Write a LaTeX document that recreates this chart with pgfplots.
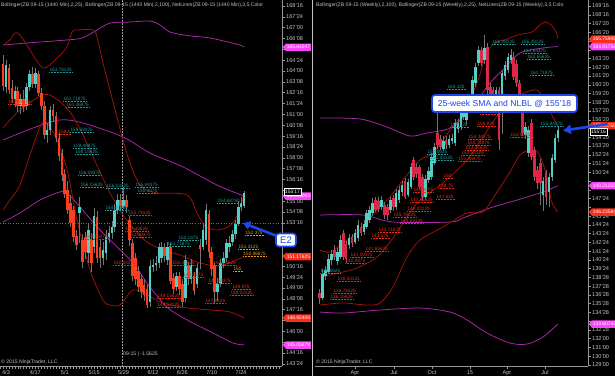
\documentclass[border=0pt]{standalone}
\usepackage{fontspec}
\setmainfont{Liberation Sans}
\usepackage{pgfplots}
\usepackage{pgfplotstable}
\pgfplotsset{compat=1.18}
\usetikzlibrary{shapes.symbols,arrows.meta}

\definecolor{upc}{RGB}{80,208,198}
\definecolor{dnL}{RGB}{255,62,30}
\definecolor{dnR}{RGB}{222,38,72}
\definecolor{wick}{RGB}{115,115,115}
\definecolor{bbred}{RGB}{165,18,10}
\definecolor{bbmag}{RGB}{175,40,175}
\definecolor{tl}{RGB}{38,150,150}
\definecolor{rl}{RGB}{232,45,22}
\definecolor{ol}{RGB}{235,150,20}
\definecolor{axg}{RGB}{195,195,195}
\definecolor{axl}{RGB}{150,150,150}
\definecolor{tagmag}{RGB}{250,70,250}
\definecolor{tagred}{RGB}{250,45,25}
\definecolor{callb}{RGB}{28,72,235}
\definecolor{olive2}{RGB}{120,130,20}

\newcommand{\tk}{\fontsize{5.6}{6}\selectfont}
\newcommand{\nlf}{\fontsize{4.7}{5}\selectfont}
\newcommand{\hdr}{\fontsize{5.1}{6}\selectfont}

\pgfplotsset{
  ninja/.style={
    scale only axis, height=366pt,
    axis x line*=bottom, axis y line*=right,
    every outer x axis line/.append style={-},
    every outer y axis line/.append style={-},
    every inner x axis line/.append style={-},
    every inner y axis line/.append style={-},
    axis line style={draw=axl, line width=0.6pt},
    tick style={draw=axl, line width=0.5pt},
    tick align=outside,
    major tick length=3pt, minor tick length=2.5pt,
    ticklabel style={font=\tk, text=axg},
    y tick label style={inner xsep=1pt},
    x tick label style={inner ysep=1pt},
  },
  wicks/.style={draw=none, mark=none, forget plot,
    error bars/y dir=both, error bars/y explicit, error bars/error mark=none,
    error bars/error bar style={draw=wick, line width=0.6pt}},
  bodies/.style={draw=none, mark=none, forget plot,
    error bars/y dir=both, error bars/y explicit, error bars/error mark=none,
    error bars/error bar style={draw=#1, line width=2.6pt}},
  band/.style={draw=#1, line width=0.75pt, smooth, tension=0.5, mark=none},
}

\tikzset{
  nl/.style={font=\nlf, text=#1, anchor=west, inner sep=0.4pt,
    append after command={(\tikzlastnode.south west) edge[draw=#1, densely dotted, line width=0.5pt] (\tikzlastnode.south east)}},
  tag/.style={signal, signal to=west, signal pointer angle=100, fill=#1, text=white,
    font=\fontsize{4.9}{5}\selectfont, inner xsep=1pt, inner ysep=0.6pt, anchor=west, minimum height=7.5pt},
  callout/.style={draw=callb, line width=1.6pt, rounded corners=3pt, fill=white, text=callb, inner sep=1pt},
  lastp/.style={draw=white, fill=black, text=white, font=\fontsize{4.9}{5}\selectfont, inner xsep=1pt, inner ysep=0.6pt, anchor=west, minimum height=7pt},
}

\pgfplotstableread{
i o h l c
-1 164.5 165.1 162.6 163.0
0 162.9 164.8 162.5 164.4
1 164.2 164.5 162.4 162.7
2 162.8 163.4 161.8 162.1
3 162.1 163.0 161.5 162.6
4 162.6 162.9 161.2 161.6
5 161.6 162.4 161.0 162.1
6 162.1 162.7 161.2 161.5
7 161.6 163.2 161.3 162.9
8 162.9 164.1 162.6 163.8
9 163.8 164.3 162.8 163.1
10 163.1 164.2 162.8 163.9
11 163.8 164.0 162.3 162.5
12 162.5 162.8 161.3 161.6
13 161.6 161.9 159.3 159.6
14 159.6 160.4 159.0 159.9
15 159.9 161.6 159.6 161.3
16 161.3 161.7 160.5 160.9
17 160.9 161.2 159.1 159.4
18 159.4 159.7 157.8 158.1
19 158.3 158.6 156.4 156.8
20 156.9 157.2 155.2 155.5
21 155.8 156.4 154.1 154.4
22 154.9 155.4 153.2 153.5
23 154.4 154.7 152.2 152.5
24 152.6 153.0 151.6 152.0
25 154.2 155.3 152.1 154.6
26 152.3 152.7 150.4 150.8
27 152.5 152.9 151.0 151.5
28 151.4 153.4 150.7 153.0
29 152.3 152.8 150.1 150.7
30 151.8 154.5 151.4 154.0
31 153.9 154.3 150.7 151.1
32 151.8 152.3 150.4 151.1
33 151.1 152.2 150.6 151.6
34 151.4 153.0 150.9 152.5
35 152.5 153.3 152.1 152.8
36 152.8 153.6 152.4 153.2
37 153.2 154.8 152.9 154.4
38 154.4 155.5 154.1 155.1
39 155.1 155.5 154.3 154.7
40 154.7 156.0 154.5 155.1
41 155.1 155.4 154.2 154.6
42 153.7 154.0 151.9 152.3
43 152.1 152.4 149.5 149.8
44 151.1 151.4 149.2 149.6
45 150.2 150.5 148.7 149.1
46 149.6 149.9 148.3 148.7
47 149.2 149.6 148.1 148.5
48 148.9 149.2 147.6 147.8
49 148.0 150.9 147.7 150.5
50 150.5 151.0 150.1 150.6
51 150.6 151.2 150.2 150.7
52 150.7 152.1 150.4 151.8
53 151.1 152.2 150.7 151.8
54 151.8 152.1 150.8 151.2
55 150.9 152.2 150.6 151.8
56 151.8 152.1 149.3 149.5
57 149.7 150.0 148.6 148.9
58 149.1 150.1 148.8 149.8
59 149.8 150.1 148.5 148.9
60 149.3 149.6 147.7 148.0
61 148.3 151.3 148.0 150.9
62 150.5 150.8 149.2 149.6
63 149.6 151.0 149.3 150.6
64 149.8 150.1 148.5 148.8
65 149.3 150.7 149.0 150.4
66 152.0 152.4 150.3 151.7
67 151.8 153.5 151.6 153.0
68 152.3 154.8 152.0 154.4
69 154.1 154.4 151.1 151.5
70 151.5 151.8 149.8 150.3
71 150.5 150.7 147.9 148.7
72 148.7 149.7 148.1 149.3
73 149.3 151.0 149.1 150.7
74 150.7 151.5 150.4 151.1
75 151.1 152.4 150.8 152.1
76 151.8 152.6 151.5 152.1
77 152.2 153.0 151.9 152.7
78 152.7 153.7 152.4 153.4
79 153.4 155.0 153.3 154.6
80 154.6 155.3 154.3 154.9
81 154.7 155.7 154.5 155.6
}\leftdata

\pgfplotstableread{
w o h l c
-12 137.1 137.6 135.9 136.5
-11 136.6 139.8 136.3 139.3
-10 139.0 140.2 138.6 139.7
-9 139.5 141.5 139.2 141.0
-8 140.8 142.0 140.3 141.5
-7 142.0 142.5 140.8 141.2
-6 140.7 142.2 140.3 141.7
-5 141.2 143.7 140.9 143.1
-4 143.9 144.2 140.8 141.2
-3 142.6 143.0 140.5 141.0
-2 142.5 143.8 142.1 143.3
-1 143.4 143.8 142.3 142.7
0 142.9 144.3 142.6 143.9
1 143.3 145.4 143.0 144.8
2 144.6 145.0 143.5 143.9
3 144.0 145.3 143.7 144.9
4 144.6 146.5 144.3 146.1
5 145.3 146.9 145.0 146.5
6 146.1 147.8 145.8 147.3
7 147.6 148.0 146.2 146.5
8 147.5 148.0 146.2 146.6
9 146.8 148.1 146.5 147.6
10 147.0 147.4 145.5 145.9
11 146.8 147.2 145.4 145.9
12 146.5 148.0 146.1 147.6
13 147.8 148.2 146.4 146.8
14 146.8 148.8 146.5 148.4
15 147.6 149.2 147.3 148.7
16 148.5 149.8 148.1 149.3
17 149.8 150.1 147.7 148.0
18 148.2 150.0 147.9 149.6
19 149.1 151.8 148.8 151.3
20 152.1 152.5 149.9 150.2
21 151.3 151.8 150.1 150.5
22 151.3 151.6 148.8 149.1
23 150.2 150.5 147.5 147.9
24 148.0 150.4 147.7 150.0
25 149.9 151.3 149.5 150.9
26 150.2 152.9 149.9 152.5
27 151.8 154.0 151.5 153.6
28 155.2 158.1 153.4 153.8
29 154.5 154.9 153.2 153.6
30 153.4 154.8 153.1 154.3
31 154.4 154.8 153.4 153.8
32 153.8 154.9 153.5 154.5
33 154.3 155.0 153.9 154.6
34 154.0 156.8 153.7 156.3
35 155.6 156.8 155.2 156.3
36 155.8 158.2 155.5 157.8
37 157.0 158.1 156.6 157.6
38 156.6 158.7 156.2 158.2
39 157.9 159.5 157.5 159.0
40 158.1 161.6 157.8 161.1
41 160.8 163.1 160.4 162.6
42 163.1 165.0 162.7 164.5
43 164.5 164.9 162.7 163.1
44 163.4 166.2 163.0 164.8
45 164.9 165.3 159.6 160.0
46 160.4 160.8 158.1 158.5
47 160.0 160.4 157.4 157.8
48 159.2 160.4 158.8 160.0
49 160.0 160.4 153.3 154.4
50 158.9 162.3 155.0 161.9
51 161.6 163.3 161.2 162.8
52 162.3 164.2 161.9 163.7
53 163.4 164.6 163.0 164.0
54 163.7 164.3 161.1 161.5
55 163.0 163.4 160.4 160.8
56 160.8 161.2 158.8 159.2
57 157.4 157.8 154.8 155.2
58 154.9 156.4 154.5 155.8
59 152.9 156.0 152.5 155.5
60 156.3 156.7 152.1 152.5
61 153.2 153.6 149.8 150.2
62 151.0 151.4 148.9 149.5
63 151.8 152.2 147.0 149.5
64 148.2 150.2 146.4 149.8
65 150.6 151.0 147.0 148.0
66 148.5 150.6 146.8 150.2
67 150.2 152.8 149.8 152.4
68 152.1 155.0 151.8 154.6
69 154.6 155.9 154.2 155.5
}\rightdata

\begin{document}
\begin{tikzpicture}
\path[use as bounding box, fill=black] (0pt,0pt) rectangle (615pt,376pt);

% background guides (pixel coordinates)
\begin{scope}[shift={(0pt,376pt)}, x=1pt, y=-1pt]
  \draw[draw=axg, line width=1.3pt] (312.5,0) -- (312.5,376);
  \draw[draw=axl, densely dotted, line width=0.5pt] (122,0) -- (122,366);
  \draw[draw=olive2, dotted, line width=0.6pt] (0,223) -- (282,223);
\end{scope}

% ---------------- left panel: daily ----------------
\begin{axis}[ninja, at={(0pt,10pt)}, anchor=south west, width=282pt,
  xmin=-2.04, xmax=93.9, ymin=143.60, ymax=168.915,
  xtick={0,10,20,30,40,50,60,70,80},
  xticklabels={4/3,4/17,5/1,5/15,5/29,6/12,6/26,7/10,7/24},
  minor xtick={-2,-1,...,93},
  ytick={143.75,144.5,145.25,146,146.75,147.5,148.25,149,149.75,150.5,151.25,152,152.75,153.5,154.25,155,155.75,156.5,157.25,158,158.75,159.5,160.25,161,161.75,162.5,163.25,164,164.75,165.5,166.25,167,167.75,168.5},
  yticklabels={143'24,144'16,,146'00,,147'16,148'08,149'00,149'24,150'16,,,,153'16,154'08,155'00,,156'16,157'08,158'00,158'24,159'16,160'08,161'00,161'24,162'16,163'08,164'00,164'24,,166'08,167'00,167'24,168'16},
]
% Bollinger 100 (magenta)
\addplot[band=bbmag] coordinates {(-1.02,165.80) (7.14,165.94) (20.7,166.15) (25.9,166.29) (31.0,166.84) (35.4,167.32) (42.2,167.39) (49.0,167.46) (52.4,167.19) (55.8,166.70) (62.6,166.43) (69.4,166.29) (79.6,165.80) (81,165.64)};
\addplot[band=bbmag] coordinates {(-1.02,159.23) (9.18,160.06) (18.37,160.62) (26.19,160.41) (39.80,159.44) (49.0,158.33) (60.20,157.37) (71.77,156.12) (81,155.35)};
\addplot[band=bbmag] coordinates {(-1.02,153.56) (4.76,154.19) (11.56,155.08) (18.37,155.64) (20.75,155.57) (25.17,154.60) (31.97,153.01) (43.20,150.73) (47.96,149.34) (54.76,147.68) (61.56,146.79) (70.41,145.89) (77.21,145.19) (81,145.06)};
% Bollinger 25 (dark red)
\addplot[band=bbred] coordinates {(-1.02,165.80) (1.36,166.15) (3.06,166.63) (4.76,166.50) (8.16,165.46) (12.59,164.21) (16.67,164.77) (20.75,165.67) (22.45,166.70) (24.15,166.84) (29.59,166.84) (30.95,166.36) (32.99,164.56) (35.37,162.69) (37.76,160.82) (39.80,159.23) (42.18,157.64) (44.56,156.47) (46.60,155.91) (51.36,155.57) (61.56,155.43) (64.97,154.18) (67.69,153.29) (71.77,153.01) (76.19,153.29) (78.91,154.12) (81,155.43)};
\addplot[band=bbred] coordinates {(-1.02,160.06) (4.76,161.31) (12.59,162.35) (16.67,162.14) (21.77,161.17) (26.19,159.58) (31.97,157.02) (35.37,155.57) (39.80,154.05) (43.20,153.15) (47.96,152.18) (53.40,151.63) (59.18,151.28) (64.97,150.80) (71.09,150.52) (76.19,150.73) (81,151.18)};
\addplot[band=bbred] coordinates {(-1.02,154.39) (1.36,155.08) (4.76,156.12) (8.16,158.20) (12.59,160.48) (16.67,159.52) (20.75,157.23) (24.15,153.70) (28.57,150.24) (32.99,148.17) (35.37,147.82) (38.78,147.82) (43.20,148.86) (47.96,148.51) (53.40,147.96) (61.56,147.62) (69.39,147.48) (76.19,147.34) (81,146.92)};
% candles
\addplot[wicks] table[x=i, y expr={(\thisrow{h}+\thisrow{l})/2}, y error expr={(\thisrow{h}-\thisrow{l})/2}] {\leftdata};
\addplot[bodies=upc] table[x=i, y expr={(\thisrow{o}+\thisrow{c})/2}, y error expr={max(\thisrow{c}-\thisrow{o},0)/2}] {\leftdata};
\addplot[bodies=dnL] table[x=i, y expr={(\thisrow{o}+\thisrow{c})/2}, y error expr={max(\thisrow{o}-\thisrow{c},0)/2}] {\leftdata};
\end{axis}

% ---------------- right panel: weekly ----------------
\begin{axis}[ninja, at={(315pt,10pt)}, anchor=south west, width=273pt,
  xmin=-13.6, xmax=79.25, ymin=128.87, ymax=170.177,
  xtick={0,13.3,26.2,39.1,51.7,64.6},
  xticklabels={Apr,Jul,Oct,15,Apr,Jul},
  ytick={129.00,129.99,130.98,131.96,132.95,133.94,134.93,135.91,136.90,137.89,138.88,139.87,140.85,141.84,142.83,143.82,144.80,145.79,146.78,147.77,148.76,149.74,150.73,151.72,152.71,153.70,154.68,155.67,156.66,157.65,158.63,159.62,160.61,161.60,162.59,163.57,164.56,165.55,166.54,167.52,168.51,169.50},
  yticklabels={129'00,130'00,131'00,132'00,132'28,,134'28,135'28,136'28,137'28,138'28,139'24,140'24,141'24,142'24,143'24,144'24,145'24,,147'24,,,150'24,151'24,152'24,153'20,154'20,,156'20,157'20,158'20,159'20,160'20,161'20,162'20,163'20,,,166'20,167'20,168'16,169'16},
]
\addplot[band=bbmag] coordinates {(-11.9,156.86) (1.7,156.75) (10.9,155.84) (18.7,154.83) (24.5,155.17) (32.3,155.73) (39.1,157.76) (45.9,160.81) (50.3,162.28) (56.1,164.19) (63.9,164.76) (69,164.92)};
\addplot[band=bbmag] coordinates {(-11.9,145.91) (2.7,145.91) (12.9,145.12) (32.3,145.12) (36.7,145.57) (45.9,146.70) (55.1,147.60) (63.9,148.51) (69,149.21)};
\addplot[band=bbmag] coordinates {(-11.9,134.96) (-4.1,134.85) (8.5,135.19) (22.1,135.41) (32.3,134.96) (38.1,134.06) (44.9,132.59) (52.7,131.46) (58.5,131.35) (63.9,132.14) (69,133.61)};
\addplot[band=bbred] coordinates {(-11.9,141.96) (-8.5,141.73) (-4.1,142.75) (0.7,143.88) (7.5,146.47) (11.9,147.94) (16.3,149.86) (22.1,152.12) (26.5,152.91) (31.6,155.17) (36.7,157.42) (41.5,160.81) (44.9,164.31) (48.3,165.44) (51.0,165.66) (53.4,166.00) (56.8,166.34) (60.2,166.57) (62.9,167.36) (64.6,167.69) (66.7,167.36) (68.4,166.57) (69,165.76)};
\addplot[band=bbred] coordinates {(-11.9,138.91) (-4.1,139.48) (0.7,139.93) (7.5,141.17) (12.9,143.31) (17.7,145.69) (22.1,147.60) (29.9,149.52) (38.1,152.12) (43.5,154.71) (48.3,157.08) (52.7,158.55) (56.1,159.45) (59.5,159.91) (61.9,160.02) (64.6,158.89) (67.3,156.97) (69,156.00)};
\addplot[band=bbred] coordinates {(-11.9,135.75) (-4.1,135.98) (4.1,135.75) (8.5,135.98) (12.9,137.79) (17.7,141.17) (22.1,143.09) (29.9,144.56) (38.1,146.14) (43.5,146.25) (48.3,148.51) (52.7,150.76) (56.1,152.68) (59.5,153.25) (61.9,153.13) (63.9,151.78) (65.6,149.64) (66.7,147.60) (68.4,146.47) (69,146.24)};
\addplot[wicks] table[x=w, y expr={(\thisrow{h}+\thisrow{l})/2}, y error expr={(\thisrow{h}-\thisrow{l})/2}] {\rightdata};
\addplot[bodies=upc] table[x=w, y expr={(\thisrow{o}+\thisrow{c})/2}, y error expr={max(\thisrow{c}-\thisrow{o},0)/2}] {\rightdata};
\addplot[bodies=dnR] table[x=w, y expr={(\thisrow{o}+\thisrow{c})/2}, y error expr={max(\thisrow{o}-\thisrow{c},0)/2}] {\rightdata};
\end{axis}

% ---------------- annotations (pixel coordinates) ----------------
\begin{scope}[shift={(0pt,376pt)}, x=1pt, y=-1pt]
  % headers
  \node[anchor=west, font=\hdr, text=axg, inner sep=0] at (1,5.5) {Bollinger(ZB 09-15 (1440 Min),2,25), Bollinger(ZB 09-15 (1440 Min),2,100), NetLines(ZB 09-15 (1440 Min),3,5,Color};
  \node[anchor=west, font=\hdr, text=axg, inner sep=0] at (316,5.5) {Bollinger(ZB 09-15 (Weekly),2,100), Bollinger(ZB 09-15 (Weekly),2,25), NetLines(ZB 09-15 (Weekly),3,5,Colo};
  \node[anchor=west, font=\hdr, text=axg, inner sep=0] at (1,362) {\textcopyright{} 2015 NinjaTrader, LLC};
  \node[anchor=west, font=\hdr, text=axg, inner sep=0] at (316,362) {\textcopyright{} 2015 NinjaTrader, LLC};
  \node[anchor=west, font=\hdr, text=axg, inner sep=0] at (123,354) {09-15 | -1.5625};

  % NetLines labels, left
  \node[nl=tl] at (49,70) {163.78125};
  \node[nl=tl] at (63,99) {161.71875};
  \node[nl=tl] at (66,105) {161.46875};
  \node[nl=tl] at (70,130) {159.59375};
  \node[nl=tl] at (73,146) {158.46875};
  \node[nl=tl] at (75,152) {158.15625};
  \node[nl=tl] at (78,173) {156.59375};
  \node[nl=tl] at (80,185) {156.15625};
  \node[nl=tl] at (106,186) {156.03125};
  \node[nl=tl] at (135,185) {155.84375};
  \node[nl=tl] at (137,191) {155.4375};
  \node[nl=tl] at (105,208) {154.40625};
  \node[nl=tl] at (217,201) {154.68750};
  \node[nl=tl] at (178,238) {152.1875};
  \node[nl=tl] at (167,244) {151.71875};
  \node[nl=rl] at (8,102) {161.96875};
  \node[nl=rl] at (58,132) {158.6};
  \node[nl=rl] at (128,213) {153.78125};
  \node[nl=rl] at (125,229) {152.40625};
  \node[nl=rl] at (128,235) {152.09375};
  \node[nl=rl] at (85,237) {152.59375};
  \node[nl=rl] at (113,263) {150.34375};
  \node[nl=rl] at (172,263) {150.40625};
  \node[nl=rl] at (183,275) {149.6875};
  \node[nl=rl] at (213,263) {150.15625};
  \node[nl=rl] at (208,281) {149.59375};
  \node[nl=rl] at (232,287) {148.875};
  \node[nl=rl] at (230,293) {148.53125};
  \node[nl=rl] at (157,296) {148.15625};
  \node[nl=rl] at (205,301) {147.8125};
  \node[nl=rl] at (157,305) {146.53125};
  \node[nl=ol] at (245,233) {152.375};
  \node[nl=ol] at (238,247) {151.3125};
  \node[nl=ol] at (243,254) {150.96875};
  \node[nl=ol] at (233,269) {150};
  % NetLines labels, right
  \node[nl=tl] at (492,42) {166.28125};
  \node[nl=tl] at (521,42) {166.28125};
  \node[nl=tl] at (523,51) {164.84375};
  \node[nl=tl] at (527,57) {163.65625};
  \node[nl=tl] at (530,73) {161.71875};
  \node[nl=tl] at (447,87) {160.125};
  \node[nl=tl] at (450,125) {156.125};
  \node[nl=tl] at (540,124) {155.84375};
  \node[nl=tl] at (427,152) {152.0625};
  \node[nl=tl] at (430,158) {151.03125};
  \node[nl=tl] at (320,270.5) {139.0625};
  \node[nl=rl] at (480,112) {157.8125};
  \node[nl=rl] at (477,124) {156.875};
  \node[nl=rl] at (510,135) {154.85938};
  \node[nl=rl] at (468,137) {154.34375};
  \node[nl=rl] at (467,143) {153.71875};
  \node[nl=rl] at (465,148) {153.15625};
  \node[nl=rl] at (461,153) {152.53125};
  \node[nl=rl] at (458,158.5) {151.96875};
  \node[nl=rl] at (443,176) {150};
  \node[nl=rl] at (438,186) {148.75};
  \node[nl=rl] at (413,190) {148.1875};
  \node[nl=rl] at (436,197) {147.625};
  \node[nl=rl] at (410,200) {147.65625};
  \node[nl=rl] at (407,209) {148.03125};
  \node[nl=rl] at (393,215) {145.78125};
  \node[nl=rl] at (400,221) {145.03125};
  \node[nl=rl] at (378,229.5) {143.71875};
  \node[nl=rl] at (371,236) {143.375};
  \node[nl=rl] at (365,249) {141.65625};
  \node[nl=rl] at (350,255) {141.09375};
  \node[nl=rl] at (345,261) {140.4375};
  \node[nl=rl] at (337,279) {138.53125};
  \node[nl=rl] at (333,291) {136.78125};
  \node[nl=rl] at (330,297) {136.15625};

  % price tags, left axis
  \node[tag=tagmag] at (282.5,47.3) {165.64247};
  \node[tag=tagmag] at (282.5,196.1) {155.35063};
  \node[lastp] at (284,191.5) {155'17};
  \node[tag=tagred] at (282.5,256.5) {151.17625};
  \node[tag=tagred] at (282.5,318.0) {146.92406};
  \node[tag=tagmag] at (282.5,345.0) {145.05878};
  % price tags, right axis
  \node[tag=tagred] at (588.5,39.1) {165.75906};
  \node[tag=tagmag] at (588.5,46.6) {164.91758};
  \node[tag=tagred] at (588.5,125.6) {155.99750};
  \node[lastp] at (590,131.5) {155'16};
  \node[tag=tagmag] at (588.5,185.7) {149.21250};
  \node[tag=tagred] at (588.5,212.1) {146.23584};
  \node[tag=tagmag] at (588.5,324.0) {133.60742};

  % callouts
  \draw[callb, line width=2.6pt, -{Triangle[length=7pt,width=8.5pt]}] (277,236) -- (243,223);
  \node[callout, font=\fontsize{9.5}{10}\selectfont, minimum width=20pt, minimum height=13pt] at (286,240) {E2};
  \draw[callb, line width=2.6pt, -{Triangle[length=8pt,width=9pt]}] (608,124) -- (563,130.5);
  \node[callout, font=\fontsize{8.6}{9}\selectfont, minimum width=145pt, minimum height=17pt] at (504.5,103.5) {25-week SMA and NLBL @ 155'18};
\end{scope}
\end{tikzpicture}
\end{document}
